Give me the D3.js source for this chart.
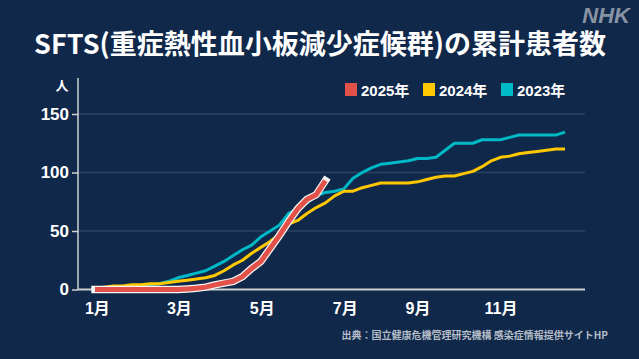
<!DOCTYPE html>
<html><head><meta charset="utf-8">
<script src="https://cdn.jsdelivr.net/npm/d3@7"></script>
<style>
html,body{margin:0;padding:0;background:#10284a;}
svg{display:block;}
</style></head>
<body>
<svg id="c" width="639" height="359"></svg>
<script>
const weeks = d3.range(1, 53);
const series2025 = [0,0,0,0,0,0,0,0,0,0,0.5,1,2,4,5.5,7,11,18,24,35,46,58,69,77,81,93];
const series2024 = [1,2,3,3,4,4,5,5,6,7,8,9,10,12,16,21,25,31,36,41,47,56,59,65,70,74,80,84,84,87,89,91,91,91,91,92,94,96,97,97,99,101,105,110,113,114,116,117,118,119,120,120];
const series2023 = [0,1,2,2,3,3,4,5,7,10,12,14,16,20,24,29,34,38,45,50,55,65,69,74,80,83,84,86,95,100,104,107,108,109,110,112,112,113,119,125,125,125,128,128,128,130,132,132,132,132,132,134.5];
const seriesNames = ["2025年","2024年","2023年"];
const seriesColors = ["#e2524b","#ffc800","#00b9c6"];
const yTicks = [0,50,100,150];
const xTickWeeks = [1.2,10.1,19.1,28.1,36,45];
const xTickLabels = ["1月","3月","5月","7月","9月","11月"];

const svg = d3.select("#c");
const W = 639, H = 359;
svg.append("rect").attr("width",W).attr("height",H).attr("fill","#10284a");

const FONT = "'Liberation Sans','Noto Sans CJK JP',sans-serif";
const CJK = "'Noto Sans CJK JP',sans-serif";

// title
svg.append("text").attr("x",320).attr("y",54).attr("text-anchor","middle")
  .attr("fill","#fff").attr("font-family",CJK).attr("font-weight","bold")
  .attr("font-size",27).text("SFTS(重症熱性血小板減少症候群)の累計患者数");

// NHK logo
svg.append("text").attr("x",630).attr("y",23).attr("text-anchor","end")
  .attr("fill","#8793a3").attr("font-family","'Liberation Sans',sans-serif")
  .attr("font-weight","bold").attr("font-style","italic").attr("font-size",22)
  .text("NHK");

const x = d3.scaleLinear().domain([1,52]).range([95,565]);
const y = d3.scaleLinear().domain([0,150]).range([289.5,114]);
const xLeft = 78, xRight = 585;

// gridlines
svg.append("g").selectAll("line").data(yTicks.filter(d=>d>0)).join("line")
  .attr("x1",xLeft).attr("x2",xRight).attr("y1",d=>y(d)).attr("y2",d=>y(d))
  .attr("stroke","#2b4262").attr("stroke-width",1.5);

// y axis
const yAxis = d3.axisLeft(y).tickValues(yTicks).tickSize(6).tickPadding(3);
const gy = svg.append("g").attr("transform",`translate(${xLeft},0)`).call(yAxis);
gy.select(".domain").remove();
gy.selectAll(".tick line").attr("stroke","#d0d0d0").attr("stroke-width",1.5);
gy.selectAll(".tick text").attr("fill","#fff").attr("font-family",FONT)
  .attr("font-weight","bold").attr("font-size",17);
svg.append("line").attr("x1",xLeft).attr("x2",xLeft).attr("y1",78).attr("y2",290)
  .attr("stroke","#d0d0d0").attr("stroke-width",1.5);
svg.append("text").attr("x",62).attr("y",90).attr("text-anchor","middle")
  .attr("fill","#fff").attr("font-family",CJK).attr("font-weight","bold")
  .attr("font-size",13).text("人");

// baseline
svg.append("line").attr("x1",xLeft).attr("x2",xRight).attr("y1",y(0)).attr("y2",y(0))
  .attr("stroke","#d0d0d0").attr("stroke-width",2);

// x axis labels
const xAxis = d3.axisBottom(x).tickValues(xTickWeeks).tickSize(0).tickPadding(0)
  .tickFormat((d,i)=>xTickLabels[i]);
const gx = svg.append("g").attr("transform","translate(0,300)").call(xAxis);
gx.select(".domain").remove();
gx.selectAll(".tick text").attr("fill","#fff").attr("font-family",FONT)
  .attr("font-weight","bold").attr("font-size",16).attr("dy","0.9em");

const line = d3.line().x((d,i)=>x(weeks[i])).y(d=>y(d));

// 2023
svg.append("path").datum(series2023).attr("d",line).attr("fill","none")
  .attr("stroke",seriesColors[2]).attr("stroke-width",3).attr("stroke-linejoin","round");
// 2024
svg.append("path").datum(series2024).attr("d",line).attr("fill","none")
  .attr("stroke",seriesColors[1]).attr("stroke-width",3).attr("stroke-linejoin","round");
// 2025 with white outline
svg.append("path").datum(series2025).attr("d",line).attr("fill","none")
  .attr("stroke","#f4f4f4").attr("stroke-width",7.5).attr("stroke-linecap","square")
  .attr("stroke-linejoin","miter");
svg.append("path").datum(series2025).attr("d",line).attr("fill","none")
  .attr("stroke",seriesColors[0]).attr("stroke-width",5).attr("stroke-linecap","butt")
  .attr("stroke-linejoin","miter");

// legend
const legX = [345,423,501];
const lg = svg.append("g");
seriesNames.forEach((n,i)=>{
  lg.append("rect").attr("x",legX[i]).attr("y",83).attr("width",12).attr("height",13)
    .attr("fill",seriesColors[i]);
  lg.append("text").attr("x",legX[i]+16).attr("y",96).attr("fill","#fff")
    .attr("font-family",FONT).attr("font-weight","bold").attr("font-size",15).text(n);
});

// source
svg.append("text").attr("x",608).attr("y",339).attr("text-anchor","end")
  .attr("fill","#b4bcc8").attr("font-family",CJK).attr("font-weight","bold")
  .attr("font-size",10).text("出典：国立健康危機管理研究機構 感染症情報提供サイトHP");
</script>
</body></html>
